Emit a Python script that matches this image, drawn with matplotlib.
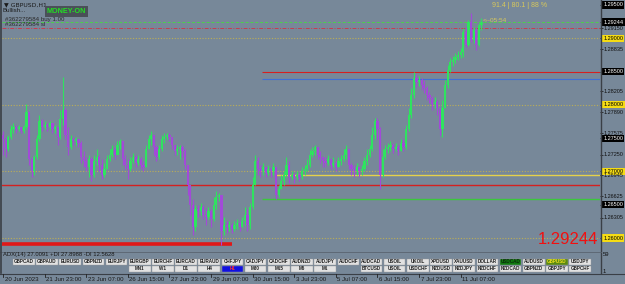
import matplotlib
matplotlib.use("Agg")
import matplotlib.pyplot as plt
from matplotlib.patches import Rectangle
import matplotlib.transforms as mtransforms

# ---------------- data ----------------
first_open = 1.2755
closes = [1.2748, 1.2733, 1.2751, 1.2763, 1.2767, 1.2763, 1.2766, 1.2761, 1.2766, 1.2790,
          1.2718, 1.2700, 1.2721, 1.2748, 1.2775, 1.2766, 1.2770, 1.2767, 1.2772, 1.2763,
          1.2766, 1.2751, 1.2778, 1.2793, 1.2755, 1.2736, 1.2748, 1.2745, 1.2748, 1.2743,
          1.2721, 1.2715, 1.2706, 1.2718, 1.2695, 1.2715, 1.2721, 1.2710, 1.2695, 1.2703,
          1.2718, 1.2725, 1.2733, 1.2725, 1.2739, 1.2745, 1.2718, 1.2710, 1.2703, 1.2715,
          1.2721, 1.2713, 1.2718, 1.2710, 1.2706, 1.2733, 1.2748, 1.2755, 1.2736, 1.2721,
          1.2733, 1.2748, 1.2752, 1.2754, 1.2751, 1.2740, 1.2730, 1.2733, 1.2736, 1.2730,
          1.2710, 1.2680, 1.2650, 1.2616, 1.2643, 1.2640, 1.2646, 1.2635, 1.2631, 1.2640,
          1.2628, 1.2650, 1.2661, 1.2664, 1.2610, 1.2620, 1.2616, 1.2619, 1.2614, 1.2619,
          1.2622, 1.2616, 1.2625, 1.2635, 1.2619, 1.2646, 1.2680, 1.2715, 1.2703, 1.2700,
          1.2706, 1.2697, 1.2703, 1.2700, 1.2706, 1.2665, 1.2673, 1.2685, 1.2695, 1.2710,
          1.2691, 1.2694, 1.2691, 1.2695, 1.2691, 1.2700, 1.2703, 1.2710, 1.2725, 1.2730,
          1.2736, 1.2725, 1.2721, 1.2715, 1.2712, 1.2718, 1.2710, 1.2713, 1.2707, 1.2716,
          1.2718, 1.2725, 1.2733, 1.2710, 1.2703, 1.2700, 1.2706, 1.2700, 1.2703, 1.2715,
          1.2725, 1.2733, 1.2755, 1.2775, 1.2763, 1.2695, 1.2721, 1.2733, 1.2736, 1.2739,
          1.2733, 1.2737, 1.2731, 1.2742, 1.2736, 1.2763, 1.2785, 1.2815, 1.2841, 1.2835,
          1.2838, 1.2830, 1.2826, 1.2815, 1.2811, 1.2802, 1.2805, 1.2796, 1.2763, 1.2796,
          1.2830, 1.2853, 1.2865, 1.2868, 1.2872, 1.2875, 1.2880, 1.2910, 1.2890, 1.2925,
          1.2898, 1.2913, 1.2890, 1.2920, 1.2925]
highs = [1.2760, 1.2751, 1.2755, 1.2769, 1.2772, 1.2769, 1.2770, 1.2767, 1.2770, 1.2802,
         1.2785, 1.2721, 1.2725, 1.2755, 1.2785, 1.2778, 1.2775, 1.2772, 1.2776, 1.2772,
         1.2770, 1.2767, 1.2793, 1.2842, 1.2796, 1.2766, 1.2755, 1.2752, 1.2751, 1.2749,
         1.2745, 1.2730, 1.2721, 1.2725, 1.2721, 1.2725, 1.2733, 1.2725, 1.2718, 1.2713,
         1.2725, 1.2733, 1.2740, 1.2736, 1.2745, 1.2748, 1.2745, 1.2725, 1.2718, 1.2721,
         1.2728, 1.2725, 1.2725, 1.2721, 1.2715, 1.2740, 1.2755, 1.2760, 1.2755, 1.2740,
         1.2740, 1.2755, 1.2757, 1.2757, 1.2757, 1.2752, 1.2740, 1.2739, 1.2740, 1.2739,
         1.2733, 1.2710, 1.2680, 1.2658, 1.2650, 1.2650, 1.2653, 1.2649, 1.2643, 1.2647,
         1.2643, 1.2661, 1.2670, 1.2668, 1.2665, 1.2631, 1.2625, 1.2625, 1.2622, 1.2625,
         1.2628, 1.2625, 1.2631, 1.2646, 1.2643, 1.2653, 1.2691, 1.2725, 1.2721, 1.2710,
         1.2713, 1.2707, 1.2709, 1.2707, 1.2712, 1.2703, 1.2680, 1.2694, 1.2700, 1.2722,
         1.2715, 1.2700, 1.2698, 1.2700, 1.2698, 1.2706, 1.2709, 1.2718, 1.2733, 1.2736,
         1.2740, 1.2736, 1.2730, 1.2722, 1.2721, 1.2724, 1.2718, 1.2721, 1.2716, 1.2721,
         1.2725, 1.2733, 1.2739, 1.2733, 1.2713, 1.2710, 1.2712, 1.2707, 1.2710, 1.2721,
         1.2733, 1.2740, 1.2766, 1.2781, 1.2781, 1.2766, 1.2733, 1.2739, 1.2742, 1.2745,
         1.2742, 1.2743, 1.2740, 1.2749, 1.2748, 1.2770, 1.2796, 1.2826, 1.2850, 1.2847,
         1.2844, 1.2841, 1.2838, 1.2829, 1.2820, 1.2814, 1.2812, 1.2808, 1.2796, 1.2808,
         1.2838, 1.2860, 1.2871, 1.2874, 1.2878, 1.2881, 1.2886, 1.2915, 1.2917, 1.2928,
         1.2938, 1.2917, 1.2915, 1.2923, 1.2931]
lows = [1.2725, 1.2721, 1.2730, 1.2748, 1.2758, 1.2757, 1.2760, 1.2757, 1.2758, 1.2763,
        1.2710, 1.2691, 1.2695, 1.2718, 1.2745, 1.2760, 1.2763, 1.2761, 1.2764, 1.2757,
        1.2758, 1.2740, 1.2748, 1.2770, 1.2748, 1.2725, 1.2733, 1.2739, 1.2740, 1.2736,
        1.2713, 1.2706, 1.2700, 1.2691, 1.2685, 1.2692, 1.2710, 1.2700, 1.2688, 1.2691,
        1.2703, 1.2715, 1.2721, 1.2718, 1.2730, 1.2733, 1.2710, 1.2703, 1.2688, 1.2700,
        1.2713, 1.2706, 1.2709, 1.2703, 1.2700, 1.2706, 1.2733, 1.2740, 1.2725, 1.2715,
        1.2718, 1.2730, 1.2743, 1.2748, 1.2745, 1.2733, 1.2724, 1.2725, 1.2718, 1.2721,
        1.2703, 1.2665, 1.2635, 1.2605, 1.2610, 1.2631, 1.2635, 1.2628, 1.2620, 1.2628,
        1.2616, 1.2625, 1.2643, 1.2655, 1.2590, 1.2605, 1.2608, 1.2610, 1.2608, 1.2611,
        1.2613, 1.2610, 1.2616, 1.2620, 1.2610, 1.2613, 1.2643, 1.2680, 1.2695, 1.2691,
        1.2695, 1.2691, 1.2694, 1.2692, 1.2694, 1.2658, 1.2661, 1.2673, 1.2680, 1.2691,
        1.2683, 1.2688, 1.2683, 1.2688, 1.2685, 1.2688, 1.2694, 1.2700, 1.2706, 1.2721,
        1.2724, 1.2718, 1.2713, 1.2707, 1.2706, 1.2709, 1.2703, 1.2706, 1.2701, 1.2707,
        1.2710, 1.2715, 1.2718, 1.2703, 1.2694, 1.2692, 1.2695, 1.2691, 1.2694, 1.2700,
        1.2710, 1.2721, 1.2730, 1.2748, 1.2748, 1.2673, 1.2691, 1.2718, 1.2728, 1.2730,
        1.2727, 1.2730, 1.2725, 1.2730, 1.2730, 1.2733, 1.2760, 1.2781, 1.2811, 1.2827,
        1.2829, 1.2823, 1.2818, 1.2808, 1.2803, 1.2793, 1.2796, 1.2785, 1.2755, 1.2752,
        1.2796, 1.2826, 1.2850, 1.2859, 1.2863, 1.2868, 1.2871, 1.2872, 1.2887, 1.2889,
        1.2895, 1.2893, 1.2883, 1.2889, 1.2913]

time_labels = ["20 Jun 2023", "21 Jun 23:00", "23 Jun 07:00", "26 Jun 15:00", "27 Jun 23:00",
               "29 Jun 07:00", "30 Jun 15:00", "3 Jul 23:00", "5 Jul 07:00", "6 Jul 15:00",
               "7 Jul 23:00", "11 Jul 07:00"]
label_every = 16

price_labels = [1.29500, 1.29244, 1.29150, 1.29000, 1.28835, 1.28500, 1.28205, 1.28000,
                1.27890, 1.27575, 1.27500, 1.27250, 1.27000, 1.26945, 1.26625, 1.26500,
                1.26305, 1.26000]
price_label_style = ["black", "black", "plain", "yellow", "plain", "black", "plain", "yellow",
                     "plain", "plain", "black", "plain", "yellow", "plain", "plain", "black",
                     "plain", "yellow"]

current_price = 1.29244
sl_level = 1.2916
level_red_full = 1.2680
level_red_seg = 1.2850
level_blue_seg = 1.2839
level_yellow_seg = 1.26945
level_green_seg = 1.2658
dotted_levels = [1.2900, 1.2800, 1.2700, 1.2600]
bottom_red = 1.2591

row1_buttons = ["GBPCAD", "GBPAUD", "EURUSD", "GBPNZD", "EURJPY", "EURGBP", "EURCHF", "EURCAD",
                "EURAUD", "CHFJPY", "CADJPY", "CADCHF", "AUDNZD", "AUDJPY", "AUDCHF", "AUDCAD",
                "USOIL", "UKOIL", "XPDUSD", "XAUUSD", "DOLLAR", "USDCAD", "AUDUSD", "GBPUSD", "USDJPY"]
row2_buttons = ["MN1", "W1", "D1", "H4", "H1", "M30", "M15", "M5", "M1", "",
                "BTCUSD", "USOIL", "USDCHF", "NZDUSD", "NZDJPY", "NZDCHF", "NZDCAD", "GBPNZD",
                "GBPJPY", "GBPCHF"]

# ---------------- figure ----------------
W, H = 625, 284
BG = "#778899"
UP = "#2fe35f"
DN = "#a24ad8"
FONT = ["Liberation Sans", "DejaVu Sans"]
plt.rcParams["font.family"] = FONT

fig = plt.figure(figsize=(W / 100, H / 100), dpi=100)
fig.patch.set_facecolor(BG)


def rect(x0, y0, x1, y1):
    return [x0 / W, 1 - y1 / H, (x1 - x0) / W, (y1 - y0) / H]


def fx(px):
    return px / W


def fy(py):
    return 1 - py / H


ax = fig.add_axes(rect(2, 0, 600, 251))
ax.set_facecolor(BG)
n = len(closes)
xa = -0.4
ax.set_xlim(xa, xa + 598 / 2.6)
ax.set_ylim(1.29575 - 251 * 0.00015021, 1.29575)
for s in ax.spines.values():
    s.set_visible(False)
ax.set_xticks([])
ax.yaxis.tick_right()
ax.set_yticks(price_labels)
ax.tick_params(axis="y", length=2, width=0.6, color="#222222", labelright=False, pad=0)

# horizontal levels
for lv in dotted_levels:
    ax.axhline(lv, color="#c8b44a", lw=0.8, ls=(0, (1, 1.5)), alpha=0.85, zorder=1)
ax.axhline(current_price, color="#4bd24b", lw=0.7, ls=(0, (3, 2)), zorder=1)
ax.axhline(sl_level, color="#c83c50", lw=0.7, ls=(0, (4, 1.5, 1, 1.5)), zorder=1)
ax.axhline(level_red_full, color="#d42020", lw=1.0, zorder=1)
x_seg = xa + (262 - 2) / 2.6
x_seg_y = xa + (275 - 2) / 2.6
x_end = xa + 598 / 2.6
ax.hlines(level_red_seg, x_seg, x_end, color="#d42020", lw=0.8, zorder=1)
ax.hlines(level_blue_seg, x_seg, x_end, color="#3f6fd8", lw=0.8, zorder=1)
ax.hlines(level_yellow_seg, x_seg_y, x_end, color="#e6d24a", lw=1.0, zorder=1)
ax.hlines(level_green_seg, x_seg, x_end, color="#3cc83c", lw=1.0, zorder=1)
ax.hlines(bottom_red, xa, xa + (232 - 2) / 2.6, color="#e01818", lw=2.6, zorder=1)

# candles
opens = [first_open] + closes[:-1]
for i in range(n):
    o, c, h, l = opens[i], closes[i], highs[i], lows[i]
    col = UP if c >= o else DN
    ax.vlines(i, l, h, color=col, lw=0.8, zorder=3)
    lo, hi = min(o, c), max(o, c)
    if hi - lo < 0.00008:
        hi = lo + 0.00008
    ax.add_patch(Rectangle((i - 0.42, lo), 0.84, hi - lo, facecolor=col, edgecolor="none", zorder=3))

# right price labels
trans = mtransforms.blended_transform_factory(ax.transAxes, ax.transData)
for p, st in zip(price_labels, price_label_style):
    kw = dict(transform=trans, va="center", ha="left", fontsize=4.0, clip_on=False, zorder=10)
    if st == "black":
        ax.text(1.0055, p, f"{p:.5f}", color="white",
                bbox=dict(boxstyle="square,pad=0.2", fc="black", ec="none"), **kw)
    elif st == "yellow":
        ax.text(1.0055, p, f"{p:.5f}", color="black",
                bbox=dict(boxstyle="square,pad=0.2", fc="#f5dc14", ec="none"), **kw)
    else:
        ax.text(1.0065, p, f"{p:.5f}", color="#111111", **kw)

# frame lines
fig.add_artist(plt.Line2D([fx(600.5), fx(600.5)], [fy(0), fy(273)], color="#3a3f46", lw=1.0))
fig.add_artist(plt.Line2D([fx(0), fx(600.5)], [fy(251.5), fy(251.5)], color="#5a6470", lw=0.6))
fig.add_artist(plt.Line2D([fx(0), fx(625)], [fy(273.5), fy(273.5)], color="#3a3f46", lw=0.8))
fig.add_artist(plt.Line2D([fx(1.2), fx(1.2)], [fy(0), fy(273)], color="#3a3f46", lw=1.2))

# top-left texts
fig.text(fx(4), fy(5), "\u25bc GBPUSD,H1", fontsize=4.4, color="#1a1a1a", va="center",
         family=["DejaVu Sans"])
fig.text(fx(3), fy(11), "Bullish...", fontsize=4.4, color="#1a1a1a", va="center")
fig.text(fx(66.5), fy(11.5), "MONEY-ON", fontsize=5.2, color="#22e022", va="center", ha="center",
         weight="bold", bbox=dict(boxstyle="square,pad=0.25", fc="#4a5058", ec="none"))
fig.text(fx(5), fy(19), "#362279584 buy 1.00", fontsize=4.4, color="#2a2a2a", va="center")
fig.text(fx(5), fy(24.5), "#362279584 sl", fontsize=4.4, color="#2a2a2a", va="center")

# top-right texts
fig.text(fx(492), fy(5.5), "91.4 | 80.1 | 88 %", fontsize=5, color="#d8c85a", va="center")
fig.text(fx(483), fy(20), "<--05:54", fontsize=4.6, color="#d8c85a", va="center")

# big price
fig.text(fx(598), fy(240), f"{current_price:.5f}", fontsize=12, color="#f01010", va="center", ha="right")

# ADX text and subwindow labels
fig.text(fx(3), fy(254.5), "ADX(14) 27.0091 +DI 27.8988 -DI 12.5628", fontsize=4.2, color="#1a1a1a",
         va="center")
fig.text(fx(603), fy(254), "59", fontsize=4.2, color="#111111", va="center")
fig.text(fx(603), fy(271.5), "1", fontsize=4.2, color="#111111", va="center")

# buttons
bx0, bstep, bw = 13.0, 23.18, 21.6
for k, lab in enumerate(row1_buttons):
    x0 = bx0 + k * bstep
    fc, tc = "#e2e2e2", "#222222"
    if lab == "USDCAD":
        fc, tc = "#0f7a0f", "#0a2a0a"
    if lab == "GBPUSD":
        fc, tc = "#5a8a10", "#f0e020"
    fig.add_artist(Rectangle((fx(x0), fy(265)), bw / W, 6.2 / H, transform=fig.transFigure,
                             facecolor=fc, edgecolor="#9a9a9a", lw=0.3))
    fig.text(fx(x0 + bw / 2), fy(261.9), lab, fontsize=3.3, color=tc, ha="center", va="center",
             weight="bold")
for k, lab in enumerate(row2_buttons):
    if not lab:
        continue
    x0 = bx0 + (k + 5) * bstep
    fc, tc = "#e2e2e2", "#222222"
    if lab == "H1":
        fc, tc = "#1010e0", "#ff3030"
    fig.add_artist(Rectangle((fx(x0), fy(272)), bw / W, 6.2 / H, transform=fig.transFigure,
                             facecolor=fc, edgecolor="#9a9a9a", lw=0.3))
    fig.text(fx(x0 + bw / 2), fy(268.9), lab, fontsize=3.3, color=tc, ha="center", va="center",
             weight="bold")

# time axis
for j, lab in enumerate(time_labels):
    xd = j * label_every
    px = 2 + (xd - xa) * 2.6
    fig.add_artist(plt.Line2D([fx(px), fx(px)], [fy(273.5), fy(276.5)], color="#222222", lw=0.6))
    fig.text(fx(px + 1.5), fy(279.5), lab, fontsize=4.4, color="#1a1a1a", va="center", ha="left")

fig.savefig("out.png", dpi=100, facecolor=BG)
